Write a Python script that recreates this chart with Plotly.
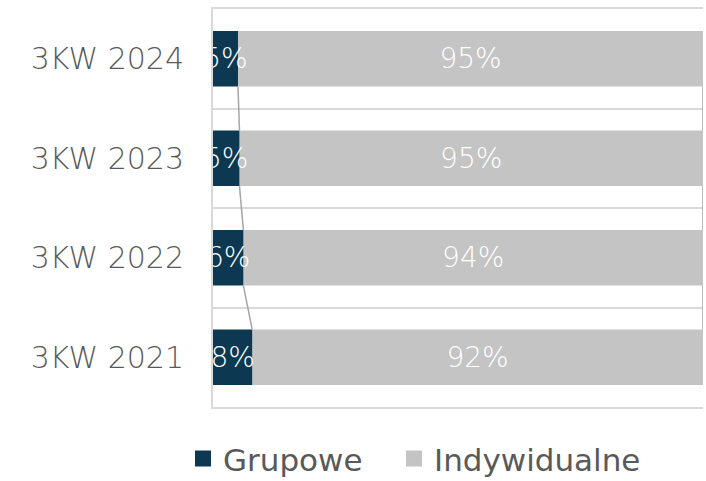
import plotly.graph_objects as go

# Quarterly share of policies: group vs individual (percent of total)
periods = ["3KW 2021", "3KW 2022", "3KW 2023", "3KW 2024"]
grupowe = [8.0, 6.2, 5.4, 5.1]
indywidualne = [92.0, 93.8, 94.6, 94.9]

DARK = "#0c3951"
LIGHT = "#c4c4c4"
GRID = "#d9d9d9"
SERIES_LINE = "#a6a6a6"
TEXT_GRAY = "#595959"
FONT = "Century Gothic, DejaVu Sans, sans-serif"

BAR_W = 0.56
ypos = list(range(len(periods)))
totals = [g + i for g, i in zip(grupowe, indywidualne)]

fig = go.Figure()

label_font = dict(color="white", size=28, family=FONT, weight=300)

# light segment first so the dark segment's labels can overflow on top of it
fig.add_trace(go.Bar(
    name="Indywidualne", y=ypos, x=indywidualne, base=grupowe,
    orientation="h", width=BAR_W, marker=dict(color=LIGHT, line_width=0),
    texttemplate="%{x:.0f}%", textposition="inside", insidetextanchor="middle",
    textangle=0, textfont=label_font, showlegend=False, hoverinfo="skip",
))
fig.add_trace(go.Bar(
    name="Grupowe", y=ypos, x=grupowe,
    orientation="h", width=BAR_W, marker=dict(color=DARK, line_width=0),
    texttemplate="%{x:.0f}%", textposition="inside", insidetextanchor="middle",
    textangle=0, textfont=label_font, showlegend=False, hoverinfo="skip",
))

# series lines joining the segment ends of neighbouring bars
def series_line(values):
    xs, ys = [], []
    for k in range(len(values) - 1):
        xs += [values[k + 1], values[k], None]
        ys += [ypos[k + 1] - BAR_W / 2, ypos[k] + BAR_W / 2, None]
    return xs, ys

for vals in (grupowe, totals):
    xs, ys = series_line(vals)
    fig.add_trace(go.Scatter(
        x=xs, y=ys, mode="lines", line=dict(color=SERIES_LINE, width=1.5),
        showlegend=False, hoverinfo="skip", cliponaxis=False,
    ))

# legend entries with larger square swatches, one legend box each
for name, color, leg in (("Grupowe", DARK, "legend"), ("Indywidualne", LIGHT, "legend2")):
    fig.add_trace(go.Scatter(
        x=[None], y=[None], mode="markers", name=name, legend=leg,
        marker=dict(symbol="square", size=19, color=color),
    ))

legend_common = dict(
    orientation="h", xref="container", yref="container",
    xanchor="left", y=0.046, yanchor="middle", itemsizing="trace",
    bgcolor="rgba(0,0,0,0)",
    font=dict(size=31, color=TEXT_GRAY, family=FONT),
)

fig.update_layout(
    width=706, height=481,
    margin=dict(l=213, r=3, t=9, b=74),
    barmode="overlay",
    plot_bgcolor="white", paper_bgcolor="white",
    font=dict(family=FONT, color=TEXT_GRAY),
    uniformtext=dict(minsize=28, mode="show"),
    showlegend=True,
    legend=dict(x=183 / 706, **legend_common),
    legend2=dict(x=394 / 706, **legend_common),
    xaxis=dict(
        range=[0, 100], showgrid=False, zeroline=False, showticklabels=False,
        showline=True, mirror=True, linecolor=GRID, linewidth=2,
    ),
    yaxis=dict(
        range=[-0.5, len(periods) - 0.5],
        tickmode="array", tickvals=ypos, ticktext=periods,
        tickfont=dict(size=30, color=TEXT_GRAY, family=FONT, weight=300),
        ticklabelstandoff=21,
        showgrid=False, zeroline=False,
        showline=True, linecolor=GRID, linewidth=2,
        minor=dict(tickmode="array", tickvals=[p + 0.5 for p in ypos[:-1]],
                   showgrid=True, gridcolor=GRID, gridwidth=2),
    ),
)

fig.write_html("out.html")
